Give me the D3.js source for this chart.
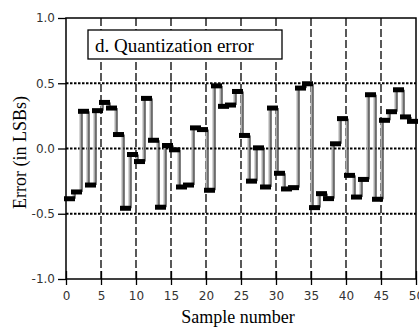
<!DOCTYPE html>
<html>
<head>
<meta charset="utf-8">
<script src="https://cdn.jsdelivr.net/npm/d3@7"></script>
<style>
  body { margin: 0; background: #fff; }
  svg { display: block; }
  .serif { font-family: "Liberation Serif", "Times New Roman", Times, "DejaVu Serif", serif; }
</style>
</head>
<body>
<svg width="419" height="331"></svg>
<script>
  // quantization error per sample, in LSBs
  var errorValues = [
    -0.385, -0.333, 0.285, -0.28, 0.29, 0.353, 0.31, 0.107, -0.458, -0.046,
    -0.10, 0.384, 0.063, -0.45, 0.023, -0.01, -0.295, -0.28, 0.158, 0.145,
    -0.32, 0.48, 0.323, 0.333, 0.437, 0.10, -0.25, 0.005, -0.295, 0.31,
    -0.19, -0.31, -0.30, 0.463, 0.496, -0.453, -0.346, -0.384, 0.036, 0.229,
    -0.206, -0.372, -0.237, 0.412, -0.389, 0.216, 0.282, 0.45, 0.242, 0.208
  ];
  var xTicks = [0, 5, 10, 15, 20, 25, 30, 35, 40, 45, 50];
  var yTicks = [1.0, 0.5, 0.0, -0.5, -1.0];
  var yTickLabels = ['1.0', '0.5', '0.0', '-0.5', '-1.0'];
  var yGrid = [0.5, 0.0, -0.5];
  var xGrid = [5, 10, 15, 20, 25, 30, 35, 40, 45];

  var margin = {left: 66, top: 18, right: 3, bottom: 52};
  var width = 419 - margin.left - margin.right;
  var height = 331 - margin.top - margin.bottom;

  var svg = d3.select('svg');
  var g = svg.append('g').attr('transform', 'translate(' + margin.left + ',' + margin.top + ')');

  var x = d3.scaleLinear().domain([0, 50]).range([0, width]);
  var y = d3.scaleLinear().domain([-1, 1]).range([height, 0]);

  // grid
  g.selectAll('.vgrid').data(xGrid).enter().append('line')
    .attr('x1', function (d) { return x(d); }).attr('x2', function (d) { return x(d); })
    .attr('y1', 0).attr('y2', height)
    .attr('stroke', '#000').attr('stroke-width', 1.3)
    .attr('stroke-dasharray', '8,3');

  g.selectAll('.hgrid').data(yGrid).enter().append('line')
    .attr('x1', 0).attr('x2', width)
    .attr('y1', function (d) { return y(d); }).attr('y2', function (d) { return y(d); })
    .attr('stroke', '#000').attr('stroke-width', 1.8)
    .attr('stroke-dasharray', '2.5,1.5');

  // frame
  g.append('rect').attr('width', width).attr('height', height)
    .attr('fill', 'none').attr('stroke', '#000').attr('stroke-width', 1.5);

  // axes
  var yAxis = d3.axisLeft(y).tickValues(yTicks)
    .tickFormat(function (d, i) { return yTickLabels[i]; })
    .tickSize(8).tickPadding(3);
  var xAxis = d3.axisBottom(x).tickValues(xTicks).tickSize(6).tickPadding(6);

  var ya = g.append('g').call(yAxis);
  var xa = g.append('g').attr('transform', 'translate(0,' + height + ')').call(xAxis);
  [ya, xa].forEach(function (a) {
    a.attr('font-family', null).attr('font-size', null);
    a.select('.domain').remove();
    a.selectAll('line').attr('stroke', '#000').attr('stroke-width', 1.3);
    a.selectAll('text').attr('fill', '#333')
      .style('font-family', '"DejaVu Sans", sans-serif').style('font-size', '12px');
  });
  // bottom ticks cross the axis
  xa.selectAll('.tick line').attr('y1', -8);

  // connectors between consecutive samples
  var pairs = d3.pairs(errorValues.map(function (v, i) { return {i: i, v: v}; }));
  g.selectAll('.conn-gray').data(pairs).enter().append('line')
    .attr('x1', function (d) { return x(d[1].i) + 0.5; })
    .attr('x2', function (d) { return x(d[1].i) + 0.5; })
    .attr('y1', function (d) { return y(d[0].v); })
    .attr('y2', function (d) { return y(d[1].v); })
    .attr('stroke', '#aaa').attr('stroke-width', 2);
  g.selectAll('.conn-black').data(pairs).enter().append('line')
    .attr('x1', function (d) { return x(d[1].i) + 2; })
    .attr('x2', function (d) { return x(d[1].i) + 2; })
    .attr('y1', function (d) { return y(d[0].v); })
    .attr('y2', function (d) { return y(d[1].v); })
    .attr('stroke', '#000').attr('stroke-width', 1);

  // sample markers
  g.selectAll('.bar').data(errorValues).enter().append('rect')
    .attr('x', function (d, i) { return x(i) - 2; })
    .attr('y', function (d) { return y(d) - 2.5; })
    .attr('width', 11).attr('height', 5)
    .attr('fill', '#000');

  // annotation box
  svg.append('rect').attr('x', 88).attr('y', 30).attr('width', 194).attr('height', 29)
    .attr('fill', '#fff').attr('stroke', '#000').attr('stroke-width', 1.3);
  svg.append('text').attr('class', 'serif').attr('x', 95).attr('y', 52)
    .style('font-size', '19px')
    .text('d. Quantization error');

  // axis titles
  svg.append('text').attr('class', 'serif')
    .attr('x', margin.left + width / 2 - 3).attr('y', 323)
    .attr('text-anchor', 'middle')
    .style('font-size', '18px')
    .text('Sample number');
  svg.append('text').attr('class', 'serif')
    .attr('transform', 'translate(26,' + (margin.top + height / 2 + 4) + ') rotate(-90)')
    .attr('text-anchor', 'middle')
    .style('font-size', '18px')
    .text('Error (in LSBs)');
</script>
</body>
</html>
